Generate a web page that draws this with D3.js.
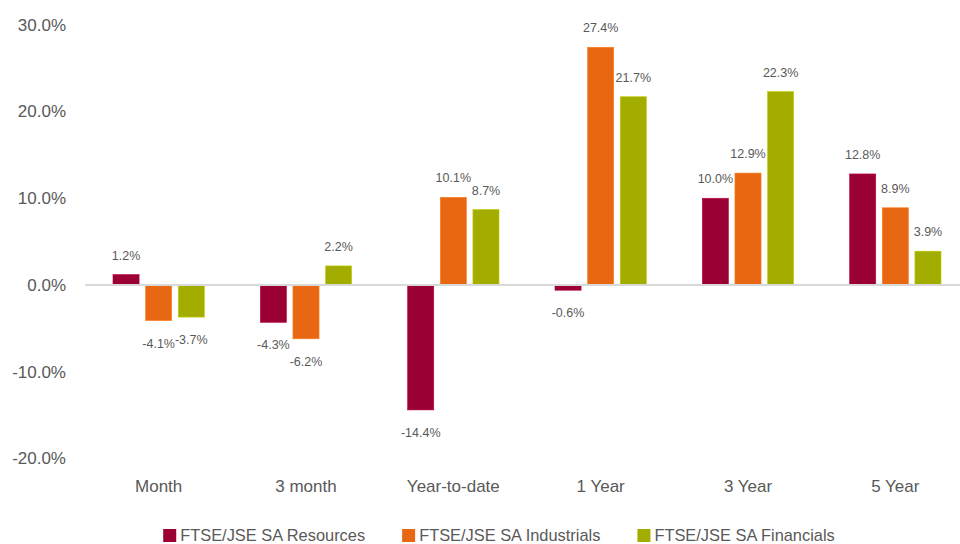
<!DOCTYPE html>
<meta charset="utf-8">
<head>
	<title>FTSE/JSE sector returns</title>
</head>

<style>

body{
	margin: 0;
	background: #fff;
}

svg{
	display: block;
	font-family: "Liberation Sans", Arial, sans-serif;
}

.tick-label, .cat-label{
	fill: #595959;
	font-size: 17px;
}

.legend text{
	fill: #595959;
	font-size: 16.4px;
}

.value-label{
	fill: #595959;
	font-size: 12.5px;
}

</style>

<body>

<svg id="chart" width="960" height="544"></svg>

<script src="https://cdnjs.cloudflare.com/ajax/libs/d3/7.8.5/d3.min.js"></script>
<script>

// data (percent)
var categories = ['Month', '3 month', 'Year-to-date', '1 Year', '3 Year', '5 Year'];
var seriesNames = ['FTSE/JSE SA Resources', 'FTSE/JSE SA Industrials', 'FTSE/JSE SA Financials'];
var resources = [1.2, -4.3, -14.4, -0.6, 10.0, 12.8];
var industrials = [-4.1, -6.2, 10.1, 27.4, 12.9, 8.9];
var financials = [-3.7, 2.2, 8.7, 21.7, 22.3, 3.9];
var yTicks = [-20, -10, 0, 10, 20, 30];
var colors = ['#9b0034', '#e86712', '#a2ad00'];

var seriesValues = [resources, industrials, financials];

// plain hyphen for negatives, like the reference
var pct = function(v){ return v.toFixed(1) + '%'; };

var svg = d3.select('#chart');
var width = 960;

var x0 = d3.scaleBand()
	.domain(categories)
	.range([85, 969])
	.paddingInner(0.38)
	.paddingOuter(0.19);

var x1 = d3.scaleBand()
	.domain(seriesNames)
	.range([0, x0.bandwidth()])
	.paddingInner(0.2);

var y = d3.scaleLinear()
	.domain([-20, 30])
	.range([458.5, 24.75]);

// y tick labels (no gridlines in the reference)
svg.append('g')
	.selectAll('text')
	.data(yTicks)
	.enter()
	.append('text')
	.attr('class', 'tick-label')
	.attr('x', 66)
	.attr('y', function(d){ return y(d); })
	.attr('dy', '0.35em')
	.attr('text-anchor', 'end')
	.text(function(d){ return pct(d); });

// one row per category/series
var rows = [];
categories.forEach(function(c, i){
	seriesNames.forEach(function(s, j){
		rows.push({cat: c, series: s, idx: j, value: seriesValues[j][i]});
	});
});

svg.append('g')
	.selectAll('rect')
	.data(rows)
	.enter()
	.append('rect')
	.attr('x', function(d){ return x0(d.cat) + x1(d.series); })
	.attr('y', function(d){ return y(Math.max(0, d.value)); })
	.attr('width', x1.bandwidth())
	.attr('height', function(d){ return Math.abs(y(d.value) - y(0)); })
	.attr('fill', function(d){ return colors[d.idx]; })
	.attr('stroke', function(d){ return d3.color(colors[d.idx]).brighter(0.5); })
	.attr('stroke-width', 0.6);

// zero line
svg.append('line')
	.attr('x1', x0.range()[0])
	.attr('x2', width)
	.attr('y1', y(0))
	.attr('y2', y(0))
	.attr('stroke', '#d9d9d9')
	.attr('stroke-width', 2);

// value labels
svg.append('g')
	.selectAll('text')
	.data(rows)
	.enter()
	.append('text')
	.attr('class', 'value-label')
	.attr('text-anchor', 'middle')
	.attr('x', function(d){ return x0(d.cat) + x1(d.series) + x1.bandwidth() / 2; })
	.attr('y', function(d){
		return d.value >= 0 ? y(d.value) - 15 : y(d.value) + 27;
	})
	.text(function(d){ return pct(d.value); });

// category labels
svg.append('g')
	.selectAll('text')
	.data(categories)
	.enter()
	.append('text')
	.attr('class', 'cat-label')
	.attr('text-anchor', 'middle')
	.attr('x', function(d){ return x0(d) + x0.bandwidth() / 2; })
	.attr('y', 492)
	.text(function(d){ return d; });

// legend, laid out from measured text widths and centred
var legend = svg.append('g').attr('class', 'legend');
var box = 13, boxGap = 4, itemGap = 37;
var items = legend.selectAll('g')
	.data(seriesNames)
	.enter()
	.append('g');

items.append('rect')
	.attr('width', box)
	.attr('height', box)
	.attr('y', -12)
	.attr('fill', function(d, i){ return colors[i]; });

items.append('text')
	.attr('x', box + boxGap)
	.attr('y', 0)
	.text(function(d){ return d; });

var offset = 0;
items.each(function(){
	var w = box + boxGap + this.querySelector('text').getComputedTextLength();
	d3.select(this).attr('transform', 'translate(' + offset + ',0)');
	offset += w + itemGap;
});
var totalW = offset - itemGap;
legend.attr('transform', 'translate(' + (499 - totalW / 2) + ',541)');

</script>

</body>
</html>
